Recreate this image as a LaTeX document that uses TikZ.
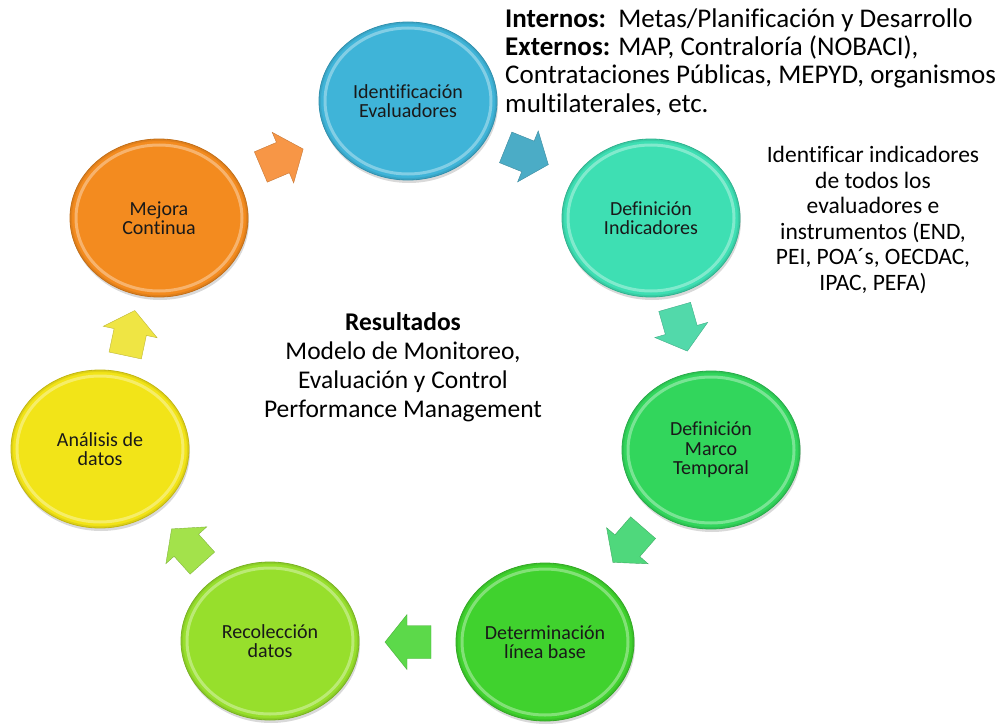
\documentclass[tikz,border=0pt]{standalone}
\usepackage{fontspec}
\setmainfont[Ligatures=NoCommon]{Carlito}
\usetikzlibrary{shapes.geometric,shadows}
\definecolor{cIdent}{HTML}{3FB4D8}
\definecolor{cDefInd}{HTML}{3EDFB3}
\definecolor{cMarco}{HTML}{32D65C}
\definecolor{cLinea}{HTML}{40D22E}
\definecolor{cRecol}{HTML}{97DF2C}
\definecolor{cAnal}{HTML}{F2E418}
\definecolor{cMejora}{HTML}{F38B1F}
\definecolor{aOrange}{HTML}{F79646}
\definecolor{aBlue}{HTML}{4BACC6}
\definecolor{aTeal}{HTML}{52D9AA}
\definecolor{aGreen}{HTML}{4FD87C}
\definecolor{aLeft}{HTML}{5CD94A}
\definecolor{aLime}{HTML}{A3E24B}
\definecolor{aYellow}{HTML}{EFE544}
\tikzset{
  stage/.style={ellipse, minimum width=178pt, minimum height=158pt, inner sep=0pt,
    fill=#1, draw=#1!80!black, line width=0.8pt, align=center,
    font=\fontsize{20}{19.5}\selectfont, text=black!90,
    drop shadow={opacity=0.3, shadow xshift=1pt, shadow yshift=-3pt},
    path picture={\draw[white, opacity=0.35, line width=3pt]
       (path picture bounding box.center) ellipse [x radius=83pt, y radius=73pt];
       \draw[#1!85!black, opacity=0.5, line width=2pt]
       (path picture bounding box.center) ellipse [x radius=88pt, y radius=78pt];}},
  blockarrow/.pic={\path[pic actions] (-23,-16.5) -- (1,-16.5) -- (1,-27.5) -- (23,0)
     -- (1,27.5) -- (1,16.5) -- (-23,16.5) -- cycle;},
  arrowfill/.style={fill=#1, draw=#1!80!black, line width=0.4pt,
     drop shadow={opacity=0.25, shadow xshift=1pt, shadow yshift=-2pt}},
  note/.style={inner sep=0pt, text=black}
}
\begin{document}
\begin{tikzpicture}[x=1pt,y=-1pt]
\useasboundingbox (0,0) rectangle (1002,725);
% stages
\node[stage=cIdent]  (ident) at (408,101) {Identificación\\Evaluadores};
\node[stage=cDefInd] (defind) at (651,218) {Definición\\Indicadores};
\node[stage=cMarco]  (marco) at (711,450) {Definición\\Marco\\Temporal};
\node[stage=cLinea]  (linea) at (545,642) {Determinación\\línea base};
\node[stage=cRecol]  (recol) at (270,641) {Recolección\\datos};
\node[stage=cAnal]   (anal) at (100,449) {Análisis de\\datos};
\node[stage=cMejora] (mejora) at (159,218) {Mejora\\Continua};
% arrows
\pic[arrowfill=aOrange, rotate=23]   (arOrange) at (282,158) {blockarrow};
\pic[arrowfill=aBlue, rotate=-22]    (arBlue) at (527,156) {blockarrow};
\pic[arrowfill=aTeal, rotate=-74]    (arTeal) at (681,329) {blockarrow};
\pic[arrowfill=aGreen, rotate=-131]  (arGreen) at (628,545) {blockarrow};
\pic[arrowfill=aLeft, rotate=180]    (arLeft) at (408,642) {blockarrow};
\pic[arrowfill=aLime, rotate=132]    (arLime) at (187,546) {blockarrow};
\pic[arrowfill=aYellow, rotate=78]   (arYellow) at (130,333) {blockarrow};
% texts
\node[note, anchor=west, align=left, font=\fontsize{27}{28.3}\selectfont]
  (evaluadores) at (505,62)
  {\textbf{Internos:}\ \ Metas/Planificación y Desarrollo\\
   \textbf{Externos:} MAP, Contraloría (NOBACI),\\
   Contrataciones Públicas, MEPYD, organismos\\
   multilaterales, etc.};
\node[note, align=center, font=\fontsize{23.5}{25.6}\selectfont]
  (indicadores) at (873,220)
  {Identificar indicadores\\de todos los\\evaluadores e\\instrumentos (END,\\PEI, POA´s, OECDAC,\\IPAC, PEFA)};
\node[note, align=center, font=\fontsize{25.5}{29}\selectfont]
  (resultados) at (403,367)
  {\textbf{Resultados}\\Modelo de Monitoreo,\\Evaluación y Control\\Performance Management};
\end{tikzpicture}
\end{document}
